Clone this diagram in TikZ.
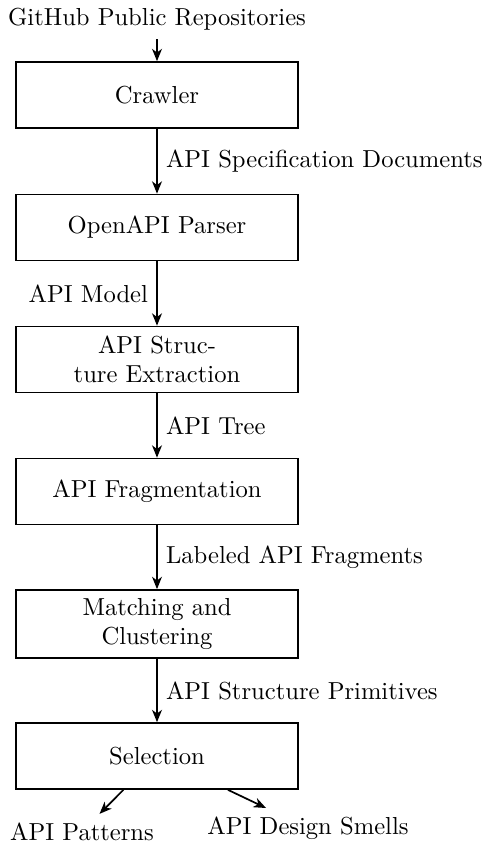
\documentclass[tikz,border=0pt]{standalone}
\usetikzlibrary{arrows.meta}
\begin{document}
\begin{tikzpicture}[x=0.4066pt,y=-0.4066pt,
  stagebox/.style={draw,line width=0.7pt,minimum width=114.7pt,minimum height=26.8pt,align=center,inner sep=3.33pt},
  flow/.style={line width=0.7pt,-{Stealth[length=5pt,width=4pt,inset=1.5pt]}},
  lbl/.style={inner sep=3.33pt}]
\useasboundingbox (0,0) rectangle (484,844);
\node[lbl] (src) at (157,19.5) {GitHub Public Repositories};
\node[stagebox] (crawl) at (157,95) {Crawler};
\node[stagebox] (parse) at (157,227.5) {OpenAPI Parser};
\node[stagebox] (extr) at (157,359.5) {API Struc-\\ture Extraction};
\node[stagebox] (frag) at (157,491.5) {API Fragmentation};
\node[stagebox] (match) at (157,624) {Matching and\\Clustering};
\node[stagebox] (sel) at (157,756) {Selection};
\node[lbl] (pat) at (82,831.5) {API Patterns};
\node[lbl] (smell) at (308,828) {API Design Smells};

\draw[flow] (src) -- (crawl);
\draw[flow] (crawl) -- node[lbl,anchor=west,pos=0.5] {API Specification Documents} (parse);
\draw[flow] (parse) -- node[lbl,anchor=east,pos=0.5] {API Model} (extr);
\draw[flow] (extr) -- node[lbl,anchor=west,pos=0.5] {API Tree} (frag);
\draw[flow] (frag) -- node[lbl,anchor=west,pos=0.5] {Labeled API Fragments} (match);
\draw[flow] (match) -- node[lbl,anchor=west,pos=0.5] {API Structure Primitives} (sel);
\draw[flow] (sel) -- (pat);
\draw[flow] (sel) -- (smell);
\end{tikzpicture}
\end{document}
